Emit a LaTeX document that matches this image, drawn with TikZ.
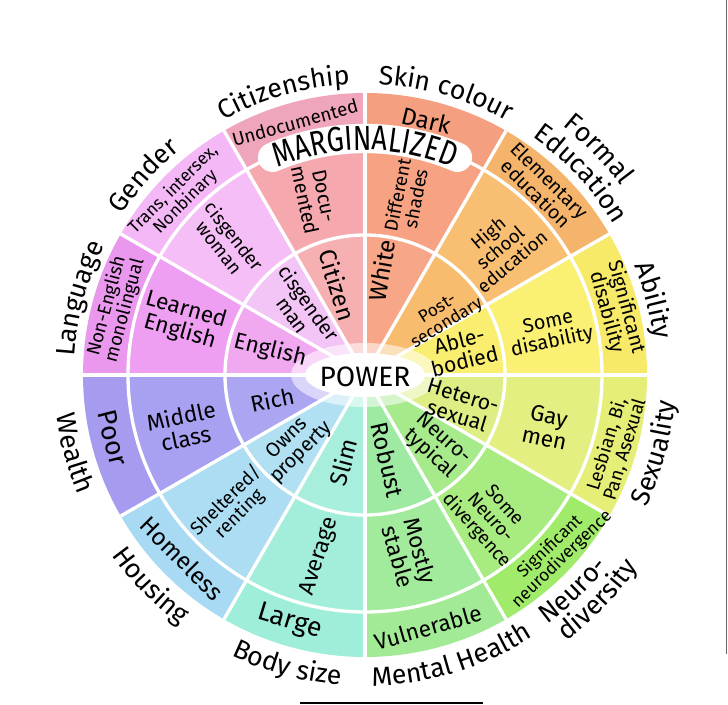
\documentclass[tikz,border=0pt]{standalone}
\usepackage{fontspec}
\setmainfont{Fira Sans}
\newfontfamily\condfont[FakeStretch=0.78]{Fira Sans}
\usetikzlibrary{decorations.text,calc}
\definecolor{s0o}{HTML}{F4A080}\definecolor{s0m}{HTML}{F6A283}\definecolor{s0i}{HTML}{F7A688}
\definecolor{s1o}{HTML}{F5B46C}\definecolor{s1m}{HTML}{F8BF73}\definecolor{s1i}{HTML}{F8BC6E}
\definecolor{s2o}{HTML}{F6EA68}\definecolor{s2m}{HTML}{FAF073}\definecolor{s2i}{HTML}{F9EE70}
\definecolor{s3o}{HTML}{E5EE76}\definecolor{s3m}{HTML}{E3EF80}\definecolor{s3i}{HTML}{DEEE84}
\definecolor{s4o}{HTML}{A0EC6A}\definecolor{s4m}{HTML}{A8EB80}\definecolor{s4i}{HTML}{A6EA8C}
\definecolor{s5o}{HTML}{A3EA96}\definecolor{s5m}{HTML}{A2EA9C}\definecolor{s5i}{HTML}{9FEAA2}
\definecolor{s6o}{HTML}{9FEEDA}\definecolor{s6m}{HTML}{A3EEDA}\definecolor{s6i}{HTML}{A8EEDC}
\definecolor{s7o}{HTML}{A8DAF4}\definecolor{s7m}{HTML}{ACDDF3}\definecolor{s7i}{HTML}{B0E0F2}
\definecolor{s8o}{HTML}{A59CEF}\definecolor{s8m}{HTML}{A8A1F1}\definecolor{s8i}{HTML}{ABA5F2}
\definecolor{s9o}{HTML}{EA98EE}\definecolor{s9m}{HTML}{EE9FF1}\definecolor{s9i}{HTML}{F0A8F1}
\definecolor{s10o}{HTML}{F4B8F6}\definecolor{s10m}{HTML}{F6BEF6}\definecolor{s10i}{HTML}{F3C4F6}
\definecolor{s11o}{HTML}{EFA6BA}\definecolor{s11m}{HTML}{F5A8AE}\definecolor{s11i}{HTML}{F7B0B2}
\newcommand\catfont{\fontsize{20}{20}\selectfont}
\newcommand\margfont{\condfont\fontsize{26}{26}\selectfont}
\newcommand\arclabelcw[3]{\path[decorate,decoration={text along path,text align=center,text={|\catfont|#3}}] ([shift={(#1+30:#2)}]C) arc[start angle=#1+30,end angle=#1-30,radius=#2];}
\newcommand\arclabelccw[3]{\path[decorate,decoration={text along path,text align=center,text={|\catfont|#3}}] ([shift={(#1-30:#2)}]C) arc[start angle=#1-30,end angle=#1+30,radius=#2];}
\tikzset{cell/.style={font=\fontsize{#1}{#1}\selectfont, align=center, inner sep=0pt, text=black},
  cell/.default=15,
  sep/.style={white, line width=2.5pt}}
\begin{document}
\begin{tikzpicture}[x=0.75pt,y=0.75pt]
\useasboundingbox (0,0) rectangle (728,704);
\fill[white] (0,0) rectangle (728,704);
\coordinate (C) at (365,329);
% sectors
\foreach \a/\n in {60/0,30/1,0/2,-30/3,-60/4,-90/5,-120/6,-150/7,-180/8,150/9,120/10,90/11}{
  \fill[s\n o] (C) -- ([shift={(\a:282)}]C) arc[start angle=\a, end angle=\a+30, radius=282] -- cycle;
  \fill[s\n m] (C) -- ([shift={(\a:237)}]C) arc[start angle=\a, end angle=\a+30, radius=237] -- cycle;
  \fill[s\n i] (C) -- ([shift={(\a:140)}]C) arc[start angle=\a, end angle=\a+30, radius=140] -- cycle;
}
\draw[sep] (C) circle[radius=140];
\draw[sep] (C) circle[radius=237];
\foreach \a in {0,30,...,330}{\draw[sep] (C) -- ([shift={(\a:282)}]C);}
% POWER blob
\fill[white,opacity=0.55] (C) ellipse[x radius=74, y radius=32];
\fill[white] (C) ellipse[x radius=60, y radius=22];
\node[font=\fontsize{21}{21}\selectfont, inner sep=0pt] (power) at ([shift={(0,-2)}]C) {POWER};
% MARGINALIZED
\draw[white, line width=22pt, line cap=round] ([shift={(113:236.5)}]C) arc[start angle=113, end angle=67, radius=236.5];
\path[decorate,decoration={text along path,text align=center,text={|\margfont|MARGINALIZED}}] ([shift={(130:225)}]C) arc[start angle=130,end angle=50,radius=225];
% category labels
\arclabelcw{106}{291}{Citizenship}
\arclabelcw{74}{291}{Skin colour}
\arclabelcw{44}{318}{Formal}
\arclabelcw{43}{291}{Education}
\arclabelcw{14.5}{291}{Ability}
\arclabelcw{138}{291}{Gender}
\arclabelcw{165}{291}{Language}
\arclabelccw{-15}{311}{Sexuality}
\arclabelccw{-46}{309}{Neuro-}
\arclabelccw{-44}{334}{diversity}
\arclabelccw{-73}{311}{Mental Health}
\arclabelccw{-105}{311}{Body size}
\arclabelccw{-135.5}{311}{Housing}
\arclabelccw{-165}{311}{Wealth}
% Skin colour
\node[cell=18, rotate=-13.5] (dark) at ([shift={(76.5:262)}]C) {Dark};
\node[cell=14, rotate=79] (shades) at ([shift={(77:183)}]C) {Different\\shades};
\node[cell=18, rotate=80] (white) at ([shift={(81:106)}]C) {White};
% Citizenship
\node[cell=14, rotate=15.5] (undoc) at ([shift={(105.5:262)}]C) {Undocumented};
\node[cell=15, rotate=-78] (docu) at ([shift={(106:184)}]C) {Docu-\\mented};
\node[cell=18, rotate=-73] (citizen) at ([shift={(107:94)}]C) {Citizen};
% Gender
\node[cell=13, rotate=45] (trans) at ([shift={(136:258)}]C) {Trans, intersex,\\Nonbinary};
\node[cell=14, rotate=-52] (ciswoman) at ([shift={(136:192)}]C) {cisgender\\woman};
\node[cell=15, rotate=-54] (cisman) at ([shift={(134:92)}]C) {cisgender\\man};
% Language
\node[cell=14, rotate=75] (noneng) at ([shift={(165:258)}]C) {Non-English\\monolingual};
\node[cell=17, rotate=-16] (learned) at ([shift={(163.5:190)}]C) {Learned\\English};
\node[cell=17, rotate=-14] (english) at ([shift={(165.5:98)}]C) {English};
% Wealth
\node[cell=20, rotate=-76] (poor) at ([shift={(-166:260)}]C) {Poor};
\node[cell=17, rotate=12] (middle) at ([shift={(-164:189)}]C) {Middle\\class};
\node[cell=17, rotate=12] (rich) at ([shift={(-165:96)}]C) {Rich};
% Housing
\node[cell=18, rotate=-45] (homeless) at ([shift={(-135:259)}]C) {Homeless};
\node[cell=14, rotate=45] (renting) at ([shift={(-135:187)}]C) {Sheltered/\\renting};
\node[cell=15, rotate=45] (owns) at ([shift={(-135:100)}]C) {Owns\\property};
% Body size
\node[cell=20, rotate=-17] (large) at ([shift={(-107:258)}]C) {Large};
\node[cell=17, rotate=72] (average) at ([shift={(-104:187)}]C) {Average};
\node[cell=18, rotate=75] (slim) at ([shift={(-104:90)}]C) {Slim};
% Mental health
\node[cell=17, rotate=16] (vulnerable) at ([shift={(-76:260)}]C) {Vulnerable};
\node[cell=17, rotate=-74] (mostly) at ([shift={(-76:184)}]C) {Mostly\\stable};
\node[cell=18, rotate=-77] (robust) at ([shift={(-75:88)}]C) {Robust};
% Neuro-diversity
\node[cell=13, rotate=44] (signeuro) at ([shift={(-43:261)}]C) {Significant\\neurodivergence};
\node[cell=14, rotate=-48] (someneuro) at ([shift={(-49:190)}]C) {Some\\Neuro-\\divergence};
\node[cell=15.5, rotate=-42] (typical) at ([shift={(-45:101)}]C) {Neuro-\\typical};
% Sexuality
\node[cell=14, rotate=73] (lesbian) at ([shift={(-16:261)}]C) {Lesbian, Bi,\\Pan, Asexual};
\node[cell=17, rotate=-12] (gay) at ([shift={(-16:189)}]C) {Gay\\men};
\node[cell=16, rotate=-17] (hetero) at ([shift={(-18:100)}]C) {Hetero-\\sexual};
% Ability
\node[cell=15, rotate=-75] (sigdis) at ([shift={(14.5:260)}]C) {Significant\\disability};
\node[cell=15, rotate=12] (somedis) at ([shift={(12.8:190)}]C) {Some\\disability};
\node[cell=16, rotate=14] (able) at ([shift={(14:100)}]C) {Able-\\bodied};
% Education
\node[cell=14.5, rotate=-45] (elem) at ([shift={(46.6:259)}]C) {Elementary\\education};
\node[cell=14, rotate=40] (high) at ([shift={(43.5:186)}]C) {High\\school\\education};
\node[cell=13, rotate=32] (post) at ([shift={(37:97)}]C) {Post-\\secondary};
% edge artifacts
\coordinate (e1) at (726,704); \coordinate (e2) at (726,50);
\draw[black!60, line width=0.75pt] (e1) -- (e2);
\coordinate (b1) at (300,1); \coordinate (b2) at (483,1);
\draw[black, line width=1.5pt] (b1) -- (b2);
\end{tikzpicture}
\end{document}
